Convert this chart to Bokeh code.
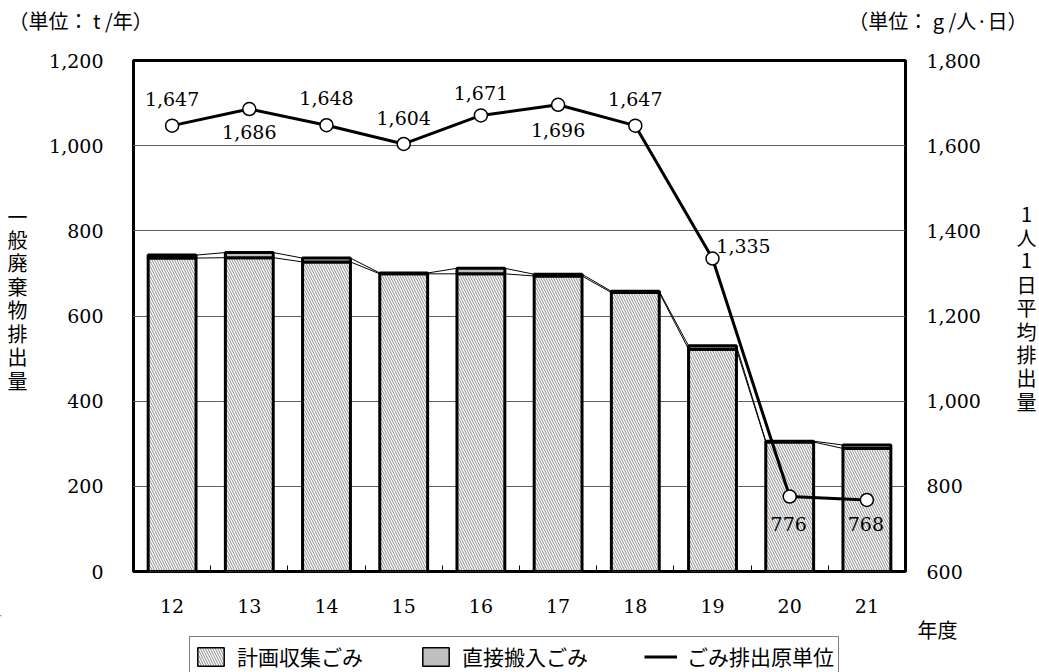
import numpy as np
from bokeh.plotting import figure
from bokeh.layouts import column, row
from bokeh.models import (ColumnDataSource, LinearAxis, Range1d, FixedTicker,
                          NumeralTickFormatter, LabelSet, Legend, LegendItem)
from bokeh.core.properties import value
from bokeh.embed import file_html
from bokeh.resources import INLINE

# ---- data ----
years = ["12", "13", "14", "15", "16", "17", "18", "19", "20", "21"]
planned = [736, 737, 727, 699, 699, 694, 655, 522, 304, 289]      # 計画収集ごみ (t/年)
direct = [7, 12, 9, 2, 13, 4, 3, 8, 2, 8]                           # 直接搬入ごみ (t/年)
per_capita = [1647, 1686, 1648, 1604, 1671, 1696, 1647, 1335, 776, 768]  # g/人・日
left_ticks = [0, 200, 400, 600, 800, 1000, 1200]
right_ticks = [600, 800, 1000, 1200, 1400, 1600, 1800]

# label placement offsets (screen px) for the per-capita labels
label_dx = [0, 0, 0, 0, 0, 0, 0, 31, -1, -1]
label_dy = [27, -23, 27, 26, 22, -25, 27, 13, -27, -24]

JP = "Noto Sans CJK JP"
NUM = "DejaVu Serif"

x = np.arange(len(years))
planned_a = np.array(planned)
total_a = planned_a + np.array(direct)
BW = 0.62

src = ColumnDataSource(dict(
    x=x, planned=planned_a, total=total_a, rate=per_capita,
    label=[f"{v:,}" for v in per_capita], dx=label_dx, dy=label_dy))

TOTAL_W, TOP_H, MID_H, SIDE_W = 1039, 40, 575, 40
BOT_H = 672 - TOP_H - MID_H
MAIN_W = TOTAL_W - 2 * SIDE_W

p = figure(width=MAIN_W, height=MID_H, output_backend="svg", toolbar_location=None,
           x_range=Range1d(-0.5, len(years) - 0.5), y_range=Range1d(0, 1200),
           min_border_left=93, min_border_right=94, min_border_top=20,
           min_border_bottom=44, background_fill_color="white",
           border_fill_color="white")
p.extra_y_ranges = {"right": Range1d(600, 1800)}
p.outline_line_color = "black"
p.outline_line_width = 3
p.xgrid.visible = False
p.ygrid.ticker = FixedTicker(ticks=left_ticks)
p.ygrid.grid_line_color = "#606060"
p.ygrid.grid_line_width = 1

# x axis
xa = p.xaxis[0]
xa.ticker = FixedTicker(ticks=list(x), minor_ticks=list(np.arange(len(years) + 1) - 0.5))
xa.major_label_overrides = {int(i): y for i, y in zip(x, years)}
xa.major_tick_line_color = None
xa.major_tick_out = 0
xa.major_tick_in = 0
xa.minor_tick_in = 6
xa.minor_tick_out = 0
xa.minor_tick_line_color = "black"
xa.axis_line_color = None
xa.major_label_standoff = 27
xa.major_label_text_font = NUM
xa.major_label_text_font_size = "19px"
xa.major_label_text_color = "black"

# left axis
ya = p.yaxis[0]
ya.ticker = FixedTicker(ticks=left_ticks)
ya.formatter = NumeralTickFormatter(format="0,0")
ya.major_tick_line_color = None
ya.minor_tick_line_color = None
ya.major_tick_out = 0
ya.axis_line_color = None
ya.major_label_standoff = 30
ya.major_label_text_font = NUM
ya.major_label_text_font_size = "19px"
ya.major_label_text_color = "black"

# right axis
ra = LinearAxis(y_range_name="right", ticker=FixedTicker(ticks=right_ticks),
                formatter=NumeralTickFormatter(format="0,0"))
ra.major_tick_line_color = None
ra.minor_tick_line_color = None
ra.major_tick_out = 0
ra.axis_line_color = None
ra.major_label_standoff = 21
ra.major_label_text_font = NUM
ra.major_label_text_font_size = "19px"
ra.major_label_text_color = "black"
p.add_layout(ra, "right")

# series lines between bar tops
p.segment(x0=x[:-1] + BW / 2, y0=total_a[:-1], x1=x[1:] - BW / 2, y1=total_a[1:],
          line_color="black", line_width=1)
p.segment(x0=x[:-1] + BW / 2, y0=planned_a[:-1], x1=x[1:] - BW / 2, y1=planned_a[1:],
          line_color="black", line_width=1)

hatch_kw = dict(fill_color="white", hatch_pattern="\\", hatch_color="#8a8a8a",
                hatch_scale=5, hatch_weight=1)
p.vbar(x="x", width=BW, bottom=0, top="planned", source=src,
       line_color="black", line_width=3, **hatch_kw)
p.vbar(x="x", width=BW, bottom="planned", top="total", source=src,
       fill_color="#c0c0c0", line_color="black", line_width=3)

# per-capita line
p.line("x", "rate", source=src, y_range_name="right", line_color="black", line_width=3)
p.scatter("x", "rate", source=src, y_range_name="right", marker="circle", size=13,
          fill_color="white", line_color="black", line_width=1.5)
p.add_layout(LabelSet(x="x", y="rate", text="label", source=src, y_range_name="right",
                      x_offset="dx", y_offset="dy", text_align="center",
                      text_baseline="middle", text_font=value(NUM),
                      text_font_size="19px", text_color="black"))


def text_fig(w, h):
    f = figure(width=w, height=h, output_backend="svg", toolbar_location=None,
               x_range=Range1d(0, w), y_range=Range1d(h, 0), min_border=0,
               x_axis_type=None, y_axis_type=None, background_fill_color="white",
               border_fill_color="white")
    f.outline_line_color = None
    return f


def put(f, texts, xs, ys, align="center", size="20px"):
    f.text(x=xs, y=ys, text=texts, text_font=value(JP), text_font_size=size,
           text_align=align, text_baseline="middle", text_color="black")


# top strip: units
top = text_fig(TOTAL_W, TOP_H)
put(top, ["（単位： t /年）"], [8], [20], align="left", size="20px")
put(top, ["（単位： g /人·日）"], [1027], [20], align="right", size="20px")

# left / right strips: vertical axis titles
left = text_fig(SIDE_W, MID_H)
lt = list("一般廃棄物排出量")
put(left, lt, [17] * len(lt), [175 + i * 26.4 for i in range(len(lt))])
right = text_fig(SIDE_W, MID_H)
rt = list("1人1日平均排出量")
put(right, rt, [27] * len(rt), [173 + i * 26.3 for i in range(len(rt))])

# bottom strip: 年度 + legend
bot = text_fig(TOTAL_W, BOT_H)
put(bot, ["年度"], [937], [14])
# legend-only swatches, placed far outside the visible strip
r1 = bot.vbar(x=[-1000], top=[-999], bottom=[-1000], width=0.5, line_color="black",
              line_width=1.5, **hatch_kw)
r2 = bot.vbar(x=[-1000], top=[-999], bottom=[-1000], width=0.5, fill_color="#c0c0c0",
              line_color="black", line_width=1.5)
r3 = bot.line(x=[-1000, -990], y=[-1000, -1000], line_color="black", line_width=3)
legend = Legend(items=[LegendItem(label="計画収集ごみ", renderers=[r1]),
                       LegendItem(label="直接搬入ごみ", renderers=[r2]),
                       LegendItem(label="ごみ排出原単位", renderers=[r3])],
                location=(189, -4), orientation="horizontal",
                padding=4, spacing=56, margin=0, glyph_width=33, glyph_height=23,
                label_standoff=10, label_text_font=JP, label_text_font_size="21px",
                label_height=23, label_text_color="black", border_line_color="black",
                border_line_width=1.5, background_fill_color="white",
                background_fill_alpha=1)
bot.add_layout(legend)

layout = column(top, row(left, p, right), bot)
open("out.html", "w").write(file_html(layout, INLINE))
